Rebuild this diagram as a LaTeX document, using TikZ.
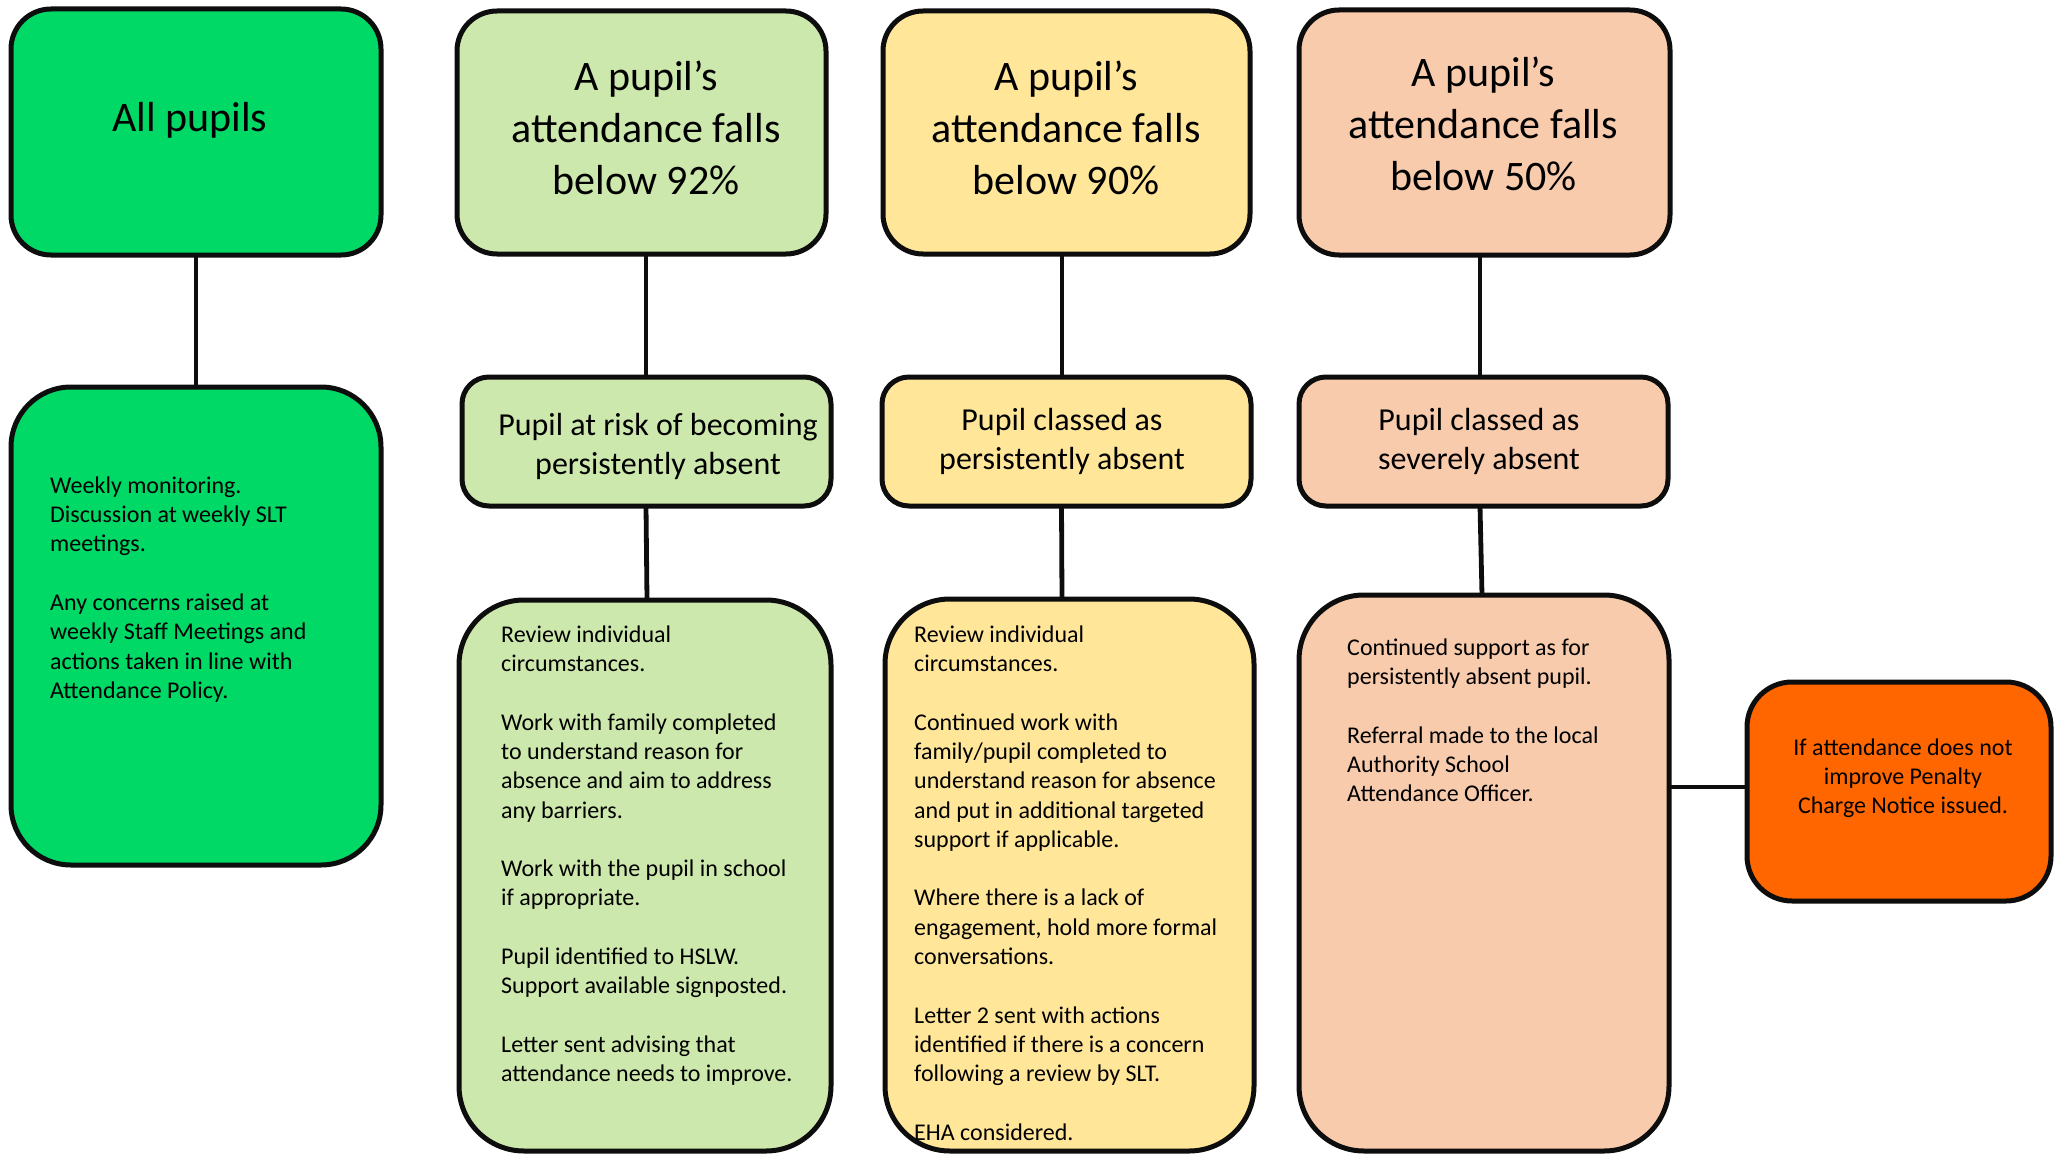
\documentclass[tikz,border=0pt]{standalone}
\usepackage{fontspec}
\setmainfont{Carlito}
\definecolor{cgreen}{HTML}{00D966}
\definecolor{clgreen}{HTML}{CDE8AC}
\definecolor{cyellow}{HTML}{FFE699}
\definecolor{cpeach}{HTML}{F8CBAD}
\definecolor{corange}{HTML}{FF6600}
\definecolor{cline}{HTML}{0D0D0D}
\tikzset{
  box/.style={draw=cline, line width=5pt, rounded corners=#1, anchor=north west, inner sep=0pt, outer sep=0pt},
  box/.default=40pt,
  conn/.style={draw=cline, line width=4.8pt},
  ttl/.style={font=\fontsize{42}{52}\selectfont, align=center, anchor=north, inner sep=0pt},
  sub/.style={font=\fontsize{32}{39}\selectfont, align=center, anchor=north, inner sep=0pt},
  body/.style={font=\fontsize{24}{29.3}\selectfont, align=left, anchor=north west, inner sep=0pt},
  bodyc/.style={font=\fontsize{24}{29.3}\selectfont, align=center, anchor=north, inner sep=0pt},
}
\begin{document}
\begin{tikzpicture}[x=1pt,y=-1pt]
\useasboundingbox (0,0) rectangle (2062,1156);
% boxes
\node[box=40pt, fill=cgreen, minimum width=370pt, minimum height=246pt] (b1) at (11,9) {};
\node[box=60pt, fill=cgreen, minimum width=370pt, minimum height=478pt] (b1d) at (11,387) {};
\node[box=40pt, fill=clgreen, minimum width=369pt, minimum height=243pt] (t2) at (457,11) {};
\node[box=40pt, fill=cyellow, minimum width=367pt, minimum height=243pt] (t3) at (883,11) {};
\node[box=40pt, fill=cpeach, minimum width=371pt, minimum height=245pt] (t4) at (1299,10) {};
\node[box=27pt, fill=clgreen, minimum width=369pt, minimum height=129pt] (c2) at (462,377) {};
\node[box=27pt, fill=cyellow, minimum width=369pt, minimum height=129pt] (c3) at (882,377) {};
\node[box=27pt, fill=cpeach, minimum width=369pt, minimum height=129pt] (c4) at (1299,377) {};
\node[box=65pt, fill=clgreen, minimum width=372pt, minimum height=551pt] (d2) at (459,600) {};
\node[box=65pt, fill=cyellow, minimum width=369pt, minimum height=552pt] (d3) at (885,599) {};
\node[box=65pt, fill=cpeach, minimum width=370pt, minimum height=556pt] (d4) at (1299,595) {};
\node[box=45pt, fill=corange, minimum width=304pt, minimum height=219pt] (po) at (1747,682) {};
% connectors
\draw[conn] (b1.south) -- (b1d.north);
\draw[conn] ([xshift=4.5pt]t2.south) -- ([xshift=-0.5pt]c2.north);
\draw[conn] ([xshift=-0.5pt]c2.south) -- ([xshift=2pt]d2.north);
\draw[conn] ([xshift=-4.5pt]t3.south) -- ([xshift=-4.5pt]c3.north);
\draw[conn] ([xshift=-5pt]c3.south) -- ([xshift=-7.5pt]d3.north);
\draw[conn] ([xshift=-4.5pt]t4.south) -- ([xshift=-3.5pt]c4.north);
\draw[conn] ([xshift=-3.5pt]c4.south) -- ([xshift=-2pt]d4.north);
\draw[conn] ([yshift=4.5pt]po.west -| d4.east) -- ([yshift=4.5pt]po.west);
% titles
\node[ttl] (b1t) at (190,94.5) {\strut All pupils};
\node[ttl] (t2t) at (646,53.5) {\strut A pupil’s\\attendance falls\\below 92\%};
\node[ttl] (t3t) at (1066,53.5) {\strut A pupil’s\\attendance falls\\below 90\%};
\node[ttl] (t4t) at (1483.5,49.5) {\strut A pupil’s\\attendance falls\\below 50\%};
\node[sub] (c2t) at (658,407.5) {\strut Pupil at risk of becoming\\persistently absent};
\node[sub] (c3t) at (1062,402.5) {\strut Pupil classed as\\persistently absent};
\node[sub] (c4t) at (1479,402.5) {\strut Pupil classed as\\severely absent};
% bodies
\node[body] (b1b) at (50,472.5) {\strut Weekly monitoring.\\Discussion at weekly SLT\\meetings.\\[29.3pt]Any concerns raised at\\weekly Staff Meetings and\\actions taken in line with\\Attendance Policy.};
\node[body] (d2b) at (501,621.5) {\strut Review individual\\circumstances.\\[29.3pt]Work with family completed\\to understand reason for\\absence and aim to address\\any barriers.\\[29.3pt]Work with the pupil in school\\if appropriate.\\[29.3pt]Pupil identified to HSLW.\\Support available signposted.\\[29.3pt]Letter sent advising that\\attendance needs to improve.};
\node[body] (d3b) at (914,621.5) {\strut Review individual\\circumstances.\\[29.3pt]Continued work with\\family/pupil completed to\\understand reason for absence\\and put in additional targeted\\support if applicable.\\[29.3pt]Where there is a lack of\\engagement, hold more formal\\conversations.\\[29.3pt]Letter 2 sent with actions\\identified if there is a concern\\following a review by SLT.\\[29.3pt]EHA considered.};
\node[body] (d4b) at (1347,634.5) {\strut Continued support as for\\persistently absent pupil.\\[29.3pt]Referral made to the local\\Authority School\\Attendance Officer.};
\node[bodyc] (pot) at (1903,734.5) {\strut If attendance does not\\improve Penalty\\Charge Notice issued.};
\end{tikzpicture}
\end{document}
